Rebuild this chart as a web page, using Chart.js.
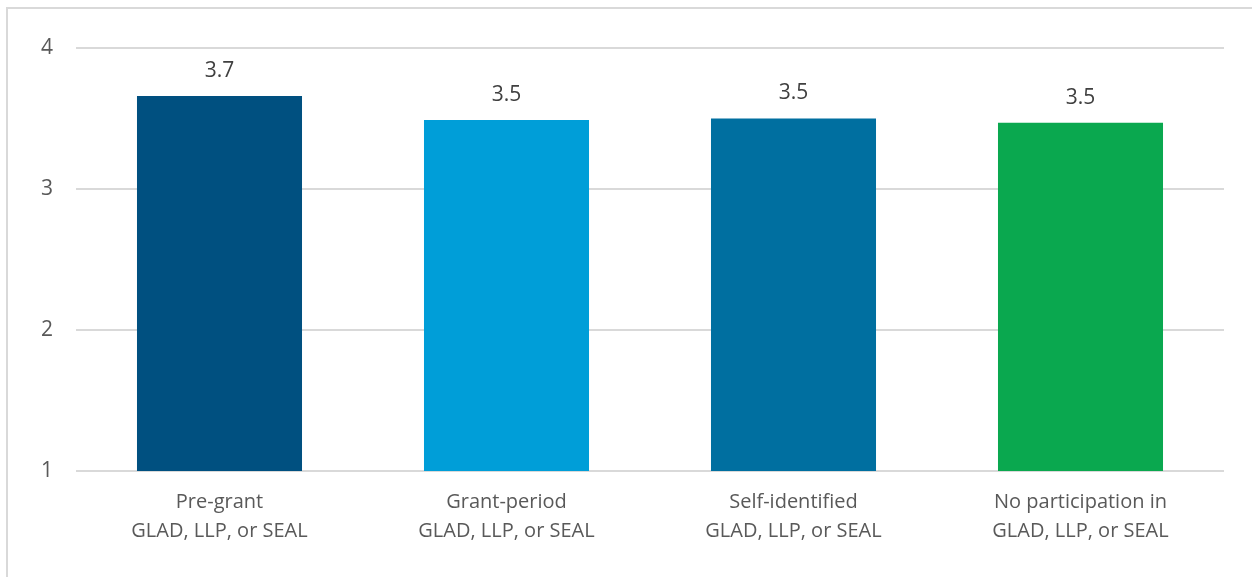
<!DOCTYPE html>
<html>
<head>
<meta charset="utf-8">
<script src="https://cdn.jsdelivr.net/npm/chart.js@4"></script>
<style>
    html, body { margin: 0; padding: 0; background: #fff; overflow: hidden; }
    #frame { position: absolute; left: 6px; top: 7px; width: 1260px; height: 590px; border: 2px solid #d9d9d9; box-sizing: border-box; }
    #wrap { position: absolute; left: 0; top: 0; width: 1252px; height: 577px; }
</style>
</head>
<body>
<div id="frame"></div>
<div id="wrap"><canvas id="scoreChart"></canvas></div>
<script>
// groups and their mean scores
const groups = [
    ['Pre-grant', 'GLAD, LLP, or SEAL'],
    ['Grant-period', 'GLAD, LLP, or SEAL'],
    ['Self-identified', 'GLAD, LLP, or SEAL'],
    ['No participation in', 'GLAD, LLP, or SEAL']
];
const meanScores = [3.66, 3.49, 3.50, 3.47];
const barColors = ['#005080', '#009ED8', '#006FA0', '#0AA84F'];
const yTicks = [1, 2, 3, 4];

const FONT = '"Open Sans", "Noto Sans", sans-serif';

// value labels above each bar
const valueLabels = {
    id: 'valueLabels',
    afterDatasetsDraw(chart) {
        const { ctx } = chart;
        const meta = chart.getDatasetMeta(0);
        ctx.save();
        ctx.font = '21px ' + FONT;
        ctx.fillStyle = '#404040';
        ctx.textAlign = 'center';
        ctx.textBaseline = 'middle';
        meta.data.forEach((bar, i) => {
            ctx.fillText(meanScores[i].toFixed(1), bar.x, bar.y - 25);
        });
        ctx.restore();
    }
};

const ctx = document.getElementById('scoreChart').getContext('2d');
new Chart(ctx, {
    type: 'bar',
    data: {
        labels: groups,
        datasets: [{
            data: meanScores,
            backgroundColor: barColors,
            borderWidth: 0,
            barPercentage: 0.575,
            categoryPercentage: 1
        }]
    },
    options: {
        responsive: true,
        maintainAspectRatio: false,
        animation: false,
        layout: { padding: { top: 48, right: 28, left: 0, bottom: 0 } },
        plugins: { legend: { display: false }, tooltip: { enabled: false } },
        scales: {
            x: {
                grid: { display: false, drawTicks: false },
                border: { display: false },
                ticks: { color: '#595959', font: { family: FONT, size: 20, lineHeight: 29 / 20 }, padding: 17, maxRotation: 0 },
                afterFit(scale) { scale.height = 106; }
            },
            y: {
                min: 1,
                max: 4,
                afterBuildTicks(scale) { scale.ticks = yTicks.map(v => ({ value: v })); },
                grid: { color: '#d9d9d9', lineWidth: 2, drawTicks: false },
                border: { display: false },
                ticks: { color: '#595959', font: { family: FONT, size: 21 }, padding: 23 },
                afterFit(scale) { scale.width = 76; }
            }
        }
    },
    plugins: [valueLabels]
});
</script>
</body>
</html>
